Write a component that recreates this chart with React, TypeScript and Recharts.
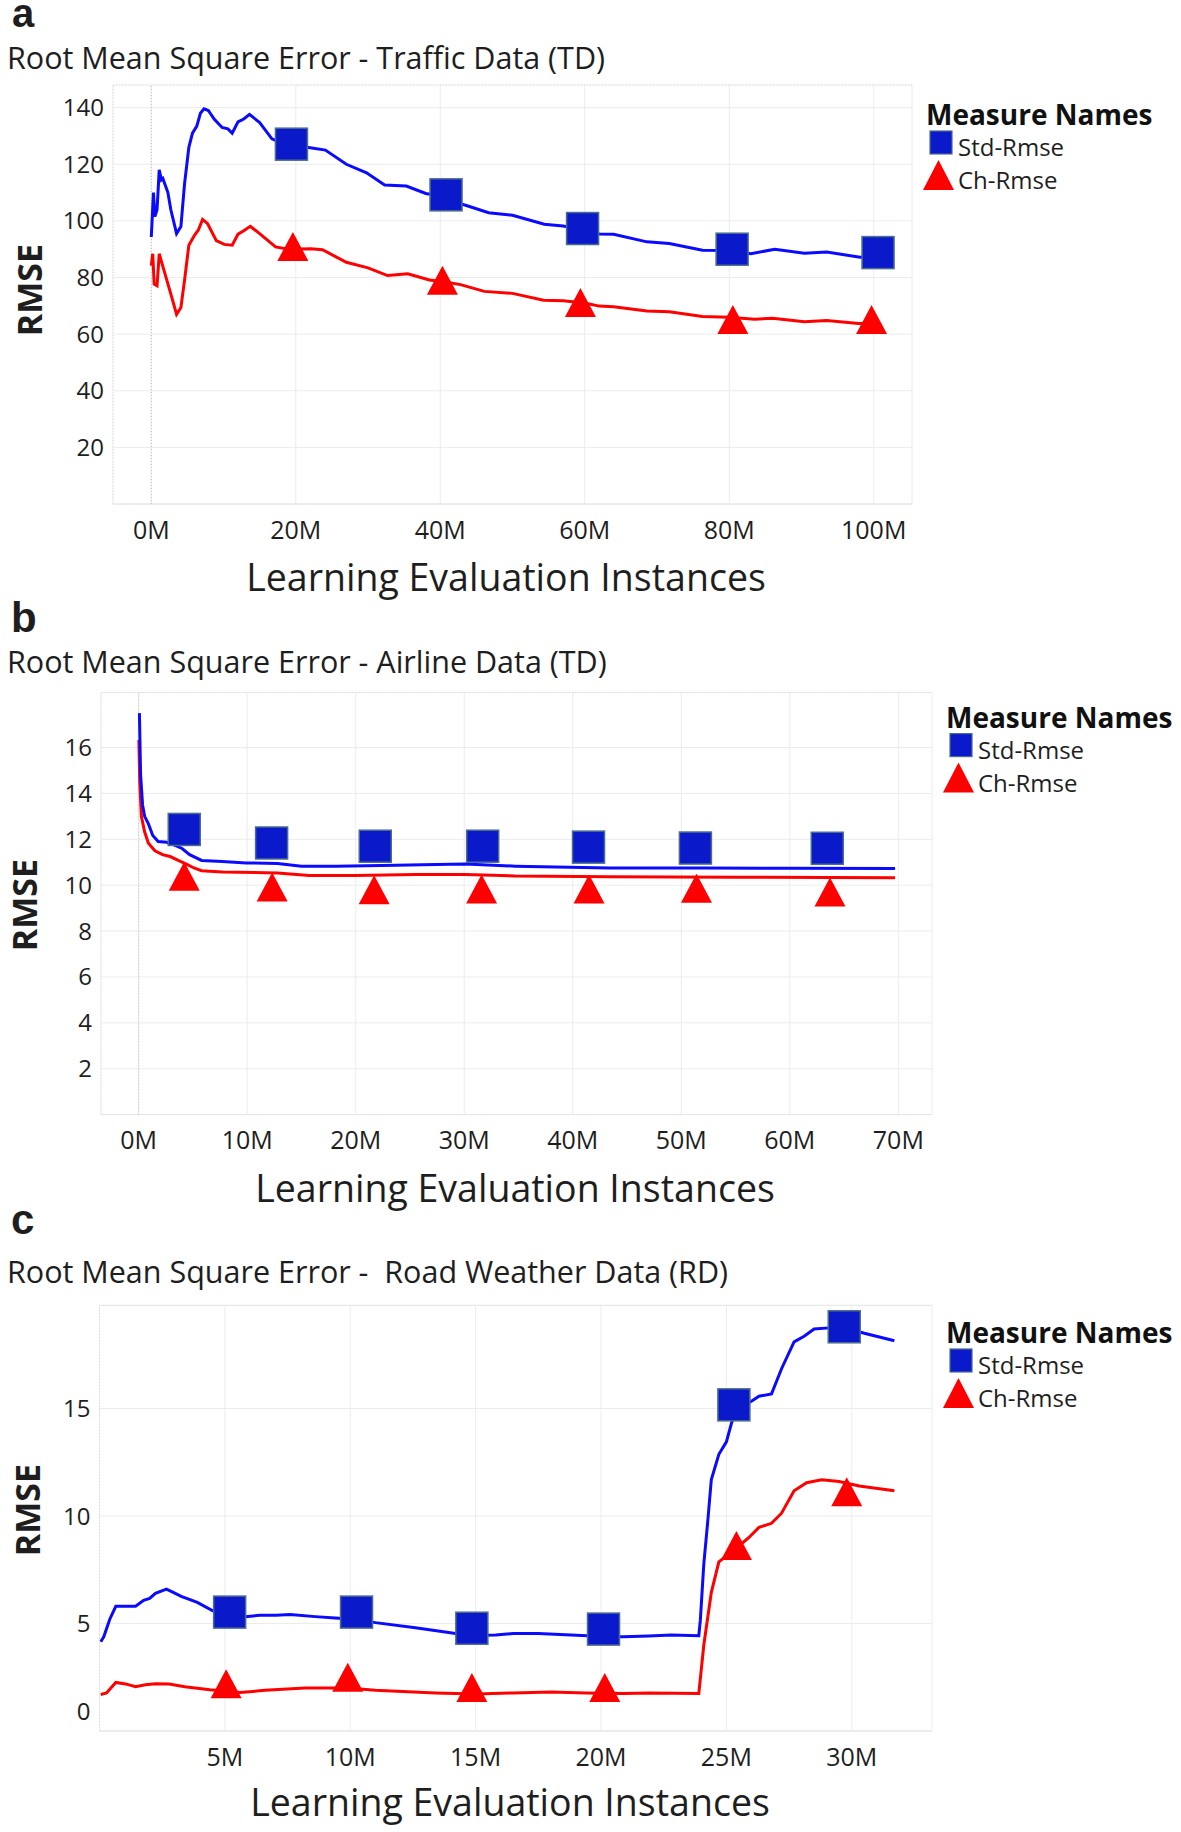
import React from 'react';
import {
  ComposedChart,
  Line,
  Scatter,
  XAxis,
  YAxis,
  CartesianGrid,
  ReferenceLine,
} from 'recharts';

const FONT = '"Open Sans", Lato, sans-serif';
const BLUE = '#0a0aff';
const RED = '#ff0000';
const SQUARE_FILL = '#0a1acb';
const SQUARE_EDGE = '#4b6b8f';
const GRID = '#ececec';

// [million instances, rmse]
// (a) Traffic data
const trafficStd = [
  [0, 94.3], [0.3, 110], [0.5, 101.5], [0.8, 104], [1.1, 118], [1.4, 114.5], [1.6, 115],
  [2.3, 110], [2.7, 104], [3.5, 95.5], [4.1, 98], [4.6, 113], [5.2, 126], [5.7, 131],
  [6.3, 133.5], [6.8, 138], [7.3, 139.6], [7.9, 139], [8.7, 136], [9.8, 133], [10.6, 132.5],
  [11.2, 131], [12, 135], [12.8, 136], [13.6, 137.6], [15, 134.7], [16.7, 129], [18.5, 127],
  [20, 126.5], [22, 125.8], [24.1, 125], [27, 120], [29.8, 117], [32.3, 112.7], [35.3, 112.3],
  [38, 109.7], [40, 108.8], [43.4, 105.6], [46.7, 102.9], [50, 102], [54.4, 98.8], [57, 98.2],
  [59.5, 97], [62, 95.4], [64, 95.3], [68.6, 92.6], [71.7, 92], [76.3, 89.6], [80, 89.5],
  [83, 88.4], [86.3, 90], [90.4, 88.6], [93.5, 89], [98.1, 87.2], [100.3, 87.6],
];
const trafficCh = [
  [0, 84.2], [0.2, 88.4], [0.4, 77.7], [0.8, 77.1], [1.1, 88.4], [1.5, 84.8], [1.9, 81.3],
  [2.7, 74.2], [3.5, 67], [4.1, 69.4], [4.6, 79], [5.2, 91.4], [6, 95], [6.5, 96.7],
  [7.1, 100.5], [7.8, 99], [9, 93], [10.1, 91.7], [11.2, 91.4], [12, 95.3], [12.8, 96.5],
  [13.7, 98.1], [15, 95.5], [17.2, 90.8], [19, 90], [22.1, 90.2], [23.7, 89.8], [27, 85.4],
  [30, 83.4], [32.7, 80.7], [35.5, 81.3], [38.5, 79.1], [40.5, 78.5], [42.8, 77.5],
  [46.1, 75.1], [50, 74.4], [54.3, 72], [57, 71.8], [60, 71], [62, 69.9], [64, 69.7],
  [68.6, 68.2], [71.7, 67.9], [76.3, 66.2], [80, 66], [83.5, 65.3], [86, 65.6], [90.4, 64.4],
  [93.5, 64.8], [97.9, 63.8], [99.8, 63.8],
];
const trafficStdMarks = [[19.4, 127.1], [40.8, 109.2], [59.7, 97.3], [80.4, 90], [100.6, 88.8]];
const trafficChMarks = [[19.6, 90.8], [40.3, 78.9], [59.4, 71], [80.5, 65], [99.7, 65]];
const trafficXTicks = [0, 20, 40, 60, 80, 100];
const trafficYTicks = [20, 40, 60, 80, 100, 120, 140];

// (b) Airline data
const airlineStd = [
  [0.07, 17.5], [0.18, 14.8], [0.36, 13.5], [0.55, 13], [0.9, 12.67], [1.3, 12.17], [1.8, 11.9],
  [2.6, 11.87], [3.3, 11.75], [4, 11.6], [4.7, 11.33], [5.8, 11.08], [7.7, 11.03], [9.9, 10.97],
  [12.8, 10.95], [15, 10.83], [18.2, 10.83], [23.7, 10.87], [27.4, 10.9], [30.1, 10.92],
  [34.7, 10.83], [43.4, 10.75], [52, 10.75], [60, 10.74], [69.7, 10.73],
];
const airlineCh = [
  [0.02, 16.33], [0.1, 14.5], [0.25, 13], [0.55, 12.33], [0.9, 11.83], [1.5, 11.5], [2.2, 11.33],
  [2.9, 11.25], [3.65, 11.08], [4.4, 10.92], [5.1, 10.75], [5.8, 10.63], [7.7, 10.58],
  [12.8, 10.53], [15.7, 10.42], [20, 10.42], [25.5, 10.47], [30.1, 10.47], [34.7, 10.4],
  [43.4, 10.37], [55, 10.35], [69.7, 10.33],
];
const airlineStdMarks = [
  [4.2, 12.43], [12.25, 11.84], [21.8, 11.7], [31.7, 11.7], [41.45, 11.66], [51.3, 11.62], [63.45, 11.61],
];
const airlineChMarks = [
  [4.2, 10.37], [12.3, 9.9], [21.7, 9.78], [31.6, 9.81], [41.5, 9.81], [51.4, 9.84], [63.7, 9.68],
];
const airlineXTicks = [0, 10, 20, 30, 40, 50, 60, 70];
const airlineYTicks = [2, 4, 6, 8, 10, 12, 14, 16];

// (c) Road weather data
const roadStd = [
  [0.05, 4.15], [0.17, 4.38], [0.41, 5.2], [0.65, 5.8], [1.04, 5.8], [1.44, 5.8], [1.76, 6.08],
  [2, 6.17], [2.23, 6.4], [2.67, 6.6], [2.94, 6.45], [3.26, 6.26], [3.9, 5.98], [4.5, 5.6],
  [5.2, 5.45], [5.8, 5.32], [6.4, 5.38], [7.05, 5.38], [7.6, 5.42], [8.6, 5.32], [9.4, 5.26],
  [10.2, 5.2], [11, 5.04], [12.6, 4.8], [14.2, 4.53], [15.2, 4.45], [15.8, 4.47], [16.5, 4.53],
  [17.5, 4.53], [18.8, 4.47], [20.1, 4.4], [20.9, 4.38], [21.9, 4.42], [22.8, 4.47],
  [23.9, 4.43], [23.96, 5.13], [24.1, 7.77], [24.25, 9.66], [24.4, 11.7], [24.7, 12.87],
  [25, 13.45], [25.2, 14.3], [25.4, 15], [26, 15.34], [26.3, 15.57], [26.8, 15.68],
  [27.2, 16.85], [27.7, 18.1], [28.1, 18.36], [28.5, 18.7], [29.1, 18.75], [29.6, 18.8],
  [30.5, 18.5], [31.7, 18.15],
];
const roadCh = [
  [0.05, 1.7], [0.28, 1.77], [0.65, 2.26], [1.04, 2.19], [1.44, 2.06], [1.83, 2.15], [2.23, 2.2],
  [2.78, 2.19], [3.4, 2.06], [4.4, 1.92], [5.6, 1.79], [6.6, 1.89], [8.2, 2], [9.1, 2],
  [9.9, 2], [11, 1.89], [13.4, 1.77], [15, 1.72], [16.5, 1.77], [18, 1.81], [19.4, 1.77],
  [20.9, 1.74], [21.9, 1.77], [23.9, 1.74], [24.1, 4], [24.4, 6.45], [24.7, 7.87], [25.4, 8.5],
  [25.9, 9], [26.3, 9.47], [26.8, 9.66], [27.2, 10.13], [27.7, 11.17], [28.2, 11.55],
  [28.8, 11.68], [29.5, 11.6], [30.3, 11.4], [31.7, 11.17],
];
const roadStdMarks = [[5.19, 5.53], [10.25, 5.53], [14.85, 4.78], [20.1, 4.74], [25.3, 15.17], [29.7, 18.8]];
const roadChMarks = [[5.05, 2.17], [9.9, 2.48], [14.85, 2.0], [20.15, 2.0], [25.4, 8.6], [29.8, 11.1]];
const roadXTicks = [5, 10, 15, 20, 25, 30];
const roadYTicks = [0, 5, 10, 15];

const pts = (pairs: number[][]) => pairs.map(([x, y]) => ({ x, y }));

const Square = (props: any) => {
  const { cx, cy } = props;
  if (cx == null || cy == null) return null;
  return (
    <rect x={cx - 16} y={cy - 16} width={32} height={32}
      fill={SQUARE_FILL} stroke={SQUARE_EDGE} strokeWidth={1.5} />
  );
};

const Triangle = (props: any) => {
  const { cx, cy } = props;
  if (cx == null || cy == null) return null;
  return <polygon points={`${cx},${cy - 15} ${cx + 15.5},${cy + 14} ${cx - 15.5},${cy + 14}`} fill={RED} />;
};

// the 0 label of panel c sits above the bottom edge of the plot
const YTick = (props: any) => {
  const { x, y, payload, lift } = props;
  const shift = lift && payload.value === 0 ? -20 : 0;
  return (
    <text x={x} y={y + shift} dy="0.355em" textAnchor="end" fill="#1e1e1e"
      fontSize={24} fontFamily={FONT}>{payload.value}</text>
  );
};

interface PanelProps {
  top: number;
  height: number;
  marginTop: number;
  marginBottom: number;
  yWidth: number;
  width: number;
  xDomain: number[];
  yDomain: number[];
  xTicks: number[];
  yTicks: number[];
  std: number[][];
  ch: number[][];
  stdMarks: number[][];
  chMarks: number[][];
  zeroLine: boolean;
  liftZero?: boolean;
}

const Panel = (p: PanelProps) => (
  <div style={{ position: 'absolute', left: 0, top: p.top }}>
    <ComposedChart width={p.width} height={p.height}
      margin={{ top: p.marginTop, right: 8, bottom: p.marginBottom, left: 0 }}>
      <CartesianGrid stroke={GRID} strokeWidth={1} />
      <XAxis dataKey="x" type="number" domain={p.xDomain} ticks={p.xTicks} allowDataOverflow
        tickFormatter={(v: number) => `${v}M`} axisLine={false} tickLine={false} tickSize={0}
        tickMargin={17} height={40} interval={0}
        tick={{ fill: '#1e1e1e', fontSize: 25, fontFamily: FONT }} />
      <YAxis dataKey="y" type="number" domain={p.yDomain} ticks={p.yTicks} allowDataOverflow
        axisLine={false} tickLine={false} tickSize={0} tickMargin={9} width={p.yWidth} interval={0}
        tick={<YTick lift={p.liftZero} />} />
      <ReferenceLine y={p.yDomain[1]} stroke="#dcdcdc" strokeDasharray="1 2" />
      <ReferenceLine y={0} stroke="#e4e4e4" />
      <ReferenceLine x={p.xDomain[0]} stroke="#dcdcdc" strokeDasharray="1 2" />
      {p.zeroLine && <ReferenceLine x={0} stroke="#bdbdbd" strokeDasharray="1 2" />}
      <Line data={pts(p.ch)} dataKey="y" stroke={RED} strokeWidth={3} dot={false}
        isAnimationActive={false} type="linear" />
      <Line data={pts(p.std)} dataKey="y" stroke={BLUE} strokeWidth={3} dot={false}
        isAnimationActive={false} type="linear" />
      <Scatter data={pts(p.chMarks)} dataKey="y" shape={<Triangle />} isAnimationActive={false} />
      <Scatter data={pts(p.stdMarks)} dataKey="y" shape={<Square />} isAnimationActive={false} />
    </ComposedChart>
  </div>
);

const Legend = ({ x, y }: { x: number; y: number }) => (
  <g>
    <text x={x} y={y} fontSize={28} fontWeight={700} fontFamily={FONT} fill="#111">Measure Names</text>
    <rect x={x + 4} y={y + 6} width={22} height={23} fill={SQUARE_FILL} stroke={SQUARE_EDGE} strokeWidth={1.2} />
    <text x={x + 32} y={y + 31} fontSize={24} fontFamily={FONT} fill="#1e1e1e">Std-Rmse</text>
    <polygon points={`${x + 12.5},${y + 35} ${x + 28},${y + 65} ${x - 3},${y + 65}`} fill={RED} />
    <text x={x + 32} y={y + 64} fontSize={24} fontFamily={FONT} fill="#1e1e1e">Ch-Rmse</text>
  </g>
);

const Labels = () => (
  <svg width={1181} height={1832} style={{ position: 'absolute', left: 0, top: 0, pointerEvents: 'none' }}>
    <g fontFamily={FONT} fill="#1e1e1e">
      <text x={12} y={27} fontSize={40} fontWeight={700} fontFamily="'Liberation Sans', Arial, sans-serif">a</text>
      <text x={7} y={68.5} fontSize={30.5}>Root Mean Square Error - Traffic Data (TD)</text>
      <text transform="translate(41.5,290) rotate(-90)" textAnchor="middle" fontSize={34} fontWeight={700}>RMSE</text>
      <text x={506} y={591} textAnchor="middle" fontSize={37.5}>Learning Evaluation Instances</text>

      <text x={11} y={631.5} fontSize={42} fontWeight={700} fontFamily="'Liberation Sans', Arial, sans-serif">b</text>
      <text x={7} y={672.5} fontSize={30.5}>Root Mean Square Error - Airline Data (TD)</text>
      <text transform="translate(37,905) rotate(-90)" textAnchor="middle" fontSize={34} fontWeight={700}>RMSE</text>
      <text x={515} y={1202} textAnchor="middle" fontSize={37.5}>Learning Evaluation Instances</text>

      <text x={11} y={1233.6} fontSize={42} fontWeight={700} fontFamily="'Liberation Sans', Arial, sans-serif">c</text>
      <text x={7} y={1282.5} fontSize={30.5} style={{ whiteSpace: 'pre' }}>Root Mean Square Error -  Road Weather Data (RD)</text>
      <text transform="translate(40,1510) rotate(-90)" textAnchor="middle" fontSize={34} fontWeight={700}>RMSE</text>
      <text x={510} y={1816} textAnchor="middle" fontSize={37.5}>Learning Evaluation Instances</text>
    </g>
    <Legend x={926} y={125} />
    <Legend x={946} y={727.6} />
    <Legend x={946} y={1343} />
  </svg>
);

export default function App() {
  return (
    <div style={{ position: 'absolute', left: 0, top: 0, width: 1181, height: 1832, background: '#fff' }}>
      <Panel top={0} width={920} height={560} marginTop={85} marginBottom={16} yWidth={113}
        xDomain={[-5.3, 105.3]} yDomain={[0, 148]} xTicks={trafficXTicks} yTicks={trafficYTicks}
        std={trafficStd} ch={trafficCh} stdMarks={trafficStdMarks} chMarks={trafficChMarks} zeroLine />
      <Panel top={600} width={940} height={580} marginTop={92.5} marginBottom={25.4} yWidth={101}
        xDomain={[-3.47, 73.1]} yDomain={[0, 18.4]} xTicks={airlineXTicks} yTicks={airlineYTicks}
        std={airlineStd} ch={airlineCh} stdMarks={airlineStdMarks} chMarks={airlineChMarks} zeroLine />
      <Panel top={1200} width={940} height={600} marginTop={105.3} marginBottom={29} yWidth={99.5}
        xDomain={[0, 33.2]} yDomain={[0, 19.8]} xTicks={roadXTicks} yTicks={roadYTicks}
        std={roadStd} ch={roadCh} stdMarks={roadStdMarks} chMarks={roadChMarks} zeroLine={false} liftZero />
      <Labels />
    </div>
  );
}
